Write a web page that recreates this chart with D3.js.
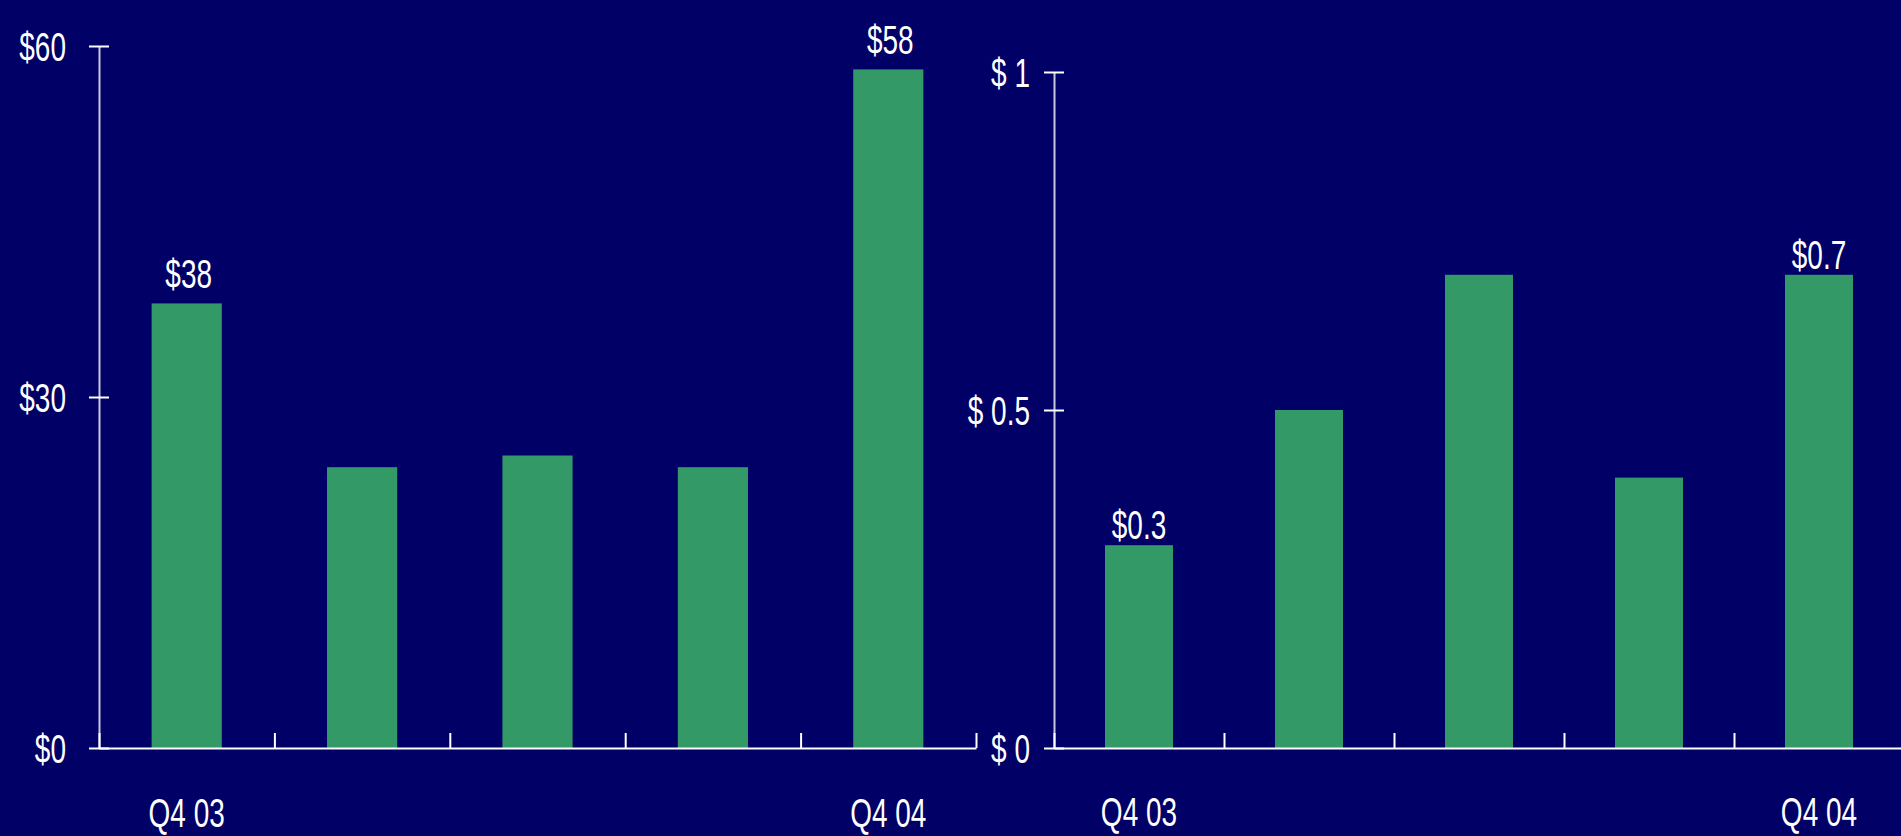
<!DOCTYPE html>
<html>
<head>
<meta charset="utf-8">
<script src="https://cdn.jsdelivr.net/npm/d3@7"></script>
<style>
  html, body { margin: 0; padding: 0; background: #000066; overflow: hidden; }
  svg { display: block; }
  text { font-family: "Liberation Sans", Arial, sans-serif; fill: #ffffff; }
</style>
</head>
<body>
<svg id="chart" width="1901" height="836"></svg>
<script>
// Quarterly figures, Q4 03 through Q4 04
const quarters = ["Q4 03", "Q1 04", "Q2 04", "Q3 04", "Q4 04"];
const quarterLabels = ["Q4 03", "", "", "", "Q4 04"];

// Left panel: dollar amounts
const revenue = [38, 24, 25, 24, 58];
const revenueTicks = [0, 30, 60];
const revenueTickLabels = ["$0", "$30", "$60"];
const revenueBarLabels = ["$38", "", "", "", "$58"];

// Right panel: per-share dollars
const perShare = [0.3, 0.5, 0.7, 0.4, 0.7];
const perShareTicks = [0, 0.5, 1];
const perShareTickLabels = ["$ 0", "$ 0.5", "$ 1"];
const perShareBarLabels = ["$0.3", "", "", "", "$0.7"];

const BG = "#000066";
const BAR = "#339966";
const AXIS_Y = "#c8c8e0";
const SQUEEZE = 0.70;      // horizontal condensing of all text
const FONT = 40;

const svg = d3.select("#chart");
svg.append("rect").attr("width", 1901).attr("height", 836).attr("fill", BG);

function panel(cfg) {
  const g = svg.append("g");

  const x = d3.scaleBand()
    .domain(d3.range(quarters.length))
    .range([cfg.left, cfg.right])
    .paddingInner(0.6)
    .paddingOuter(0.3);

  const y = d3.scaleLinear()
    .domain([0, d3.max(cfg.ticks)])
    .range([cfg.base, cfg.top]);

  // bars
  g.selectAll("rect.bar")
    .data(cfg.values)
    .join("rect")
    .attr("class", "bar")
    .attr("x", (d, i) => x(i))
    .attr("width", x.bandwidth())
    .attr("y", d => y(d))
    .attr("height", d => y(0) - y(d))
    .attr("fill", BAR);

  // value labels above the bars
  g.selectAll("text.val")
    .data(cfg.values)
    .join("text")
    .attr("class", "val")
    .attr("text-anchor", "middle")
    .attr("font-size", FONT)
    .attr("transform", (d, i) =>
      `translate(${x(i) + x.bandwidth() / 2 + cfg.valDx},${y(d) - cfg.valGap}) scale(${SQUEEZE},1)`)
    .text((d, i) => cfg.barLabels[i]);

  // vertical axis
  const yAxis = d3.axisLeft(y)
    .tickValues(cfg.ticks)
    .tickSizeOuter(0)
    .tickSizeInner(10)
    .tickFormat((d, i) => cfg.tickLabels[i]);

  const ya = g.append("g")
    .attr("transform", `translate(${cfg.left},0)`)
    .call(yAxis);
  ya.select(".domain").attr("stroke", AXIS_Y).attr("stroke-width", 2);
  ya.selectAll(".tick line")
    .attr("x1", -10).attr("x2", 10)
    .attr("stroke", "#ffffff").attr("stroke-width", 2);
  ya.selectAll(".tick text")
    .attr("x", null)
    .attr("dy", "0.35em")
    .attr("font-size", FONT)
    .attr("font-family", "Liberation Sans, Arial, sans-serif")
    .attr("fill", "#ffffff")
    .attr("transform", `translate(${-cfg.labelGap},0) scale(${SQUEEZE},1)`);

  // horizontal axis with boundary ticks between quarters
  const edges = d3.scaleLinear()
    .domain([0, quarters.length])
    .range([cfg.left, cfg.right]);
  const xAxis = d3.axisBottom(edges)
    .tickValues(d3.range(quarters.length + 1))
    .tickSizeOuter(0)
    .tickSizeInner(-15)
    .tickFormat("");
  const xa = g.append("g")
    .attr("transform", `translate(0,${cfg.base})`)
    .call(xAxis);
  xa.select(".domain").attr("stroke", "#ffffff").attr("stroke-width", 2);
  xa.selectAll(".tick line").attr("stroke", "#ffffff").attr("stroke-width", 2);

  // quarter labels
  const la = g.append("g")
    .attr("transform", `translate(0,${cfg.catBaseline})`)
    .call(d3.axisBottom(x).tickSize(0).tickFormat(i => quarterLabels[i]));
  la.select(".domain").remove();
  la.selectAll(".tick text")
    .attr("y", null)
    .attr("dy", null)
    .attr("font-size", FONT)
    .attr("font-family", "Liberation Sans, Arial, sans-serif")
    .attr("fill", "#ffffff")
    .attr("transform", `scale(${SQUEEZE},1)`);
}

panel({
  left: 99, right: 976, top: 46, base: 748,
  values: revenue, ticks: revenueTicks, tickLabels: revenueTickLabels,
  barLabels: revenueBarLabels, labelGap: 33, valGap: 15, valDx: 2,
  catBaseline: 827
});

panel({
  left: 1054, right: 1904, top: 72, base: 748,
  values: perShare, ticks: perShareTicks, tickLabels: perShareTickLabels,
  barLabels: perShareBarLabels, labelGap: 24, valGap: 6, valDx: 0,
  catBaseline: 826
});
</script>
</body>
</html>
